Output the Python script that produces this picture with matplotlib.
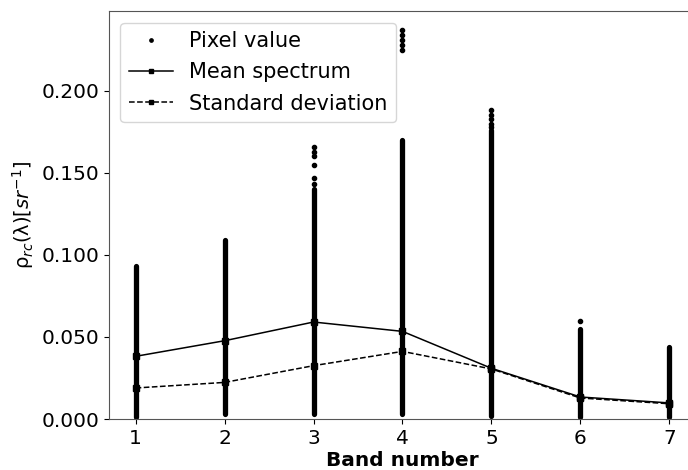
import matplotlib.pyplot as plt
import numpy as np

bands = [1, 2, 3, 4, 5, 6, 7]
# dense part of the pixel values for each band (low, high)
pix_low = [0.001, 0.003, 0.003, 0.003, 0.002, 0.001, 0.001]
pix_high = [0.093, 0.109, 0.140, 0.170, 0.176, 0.055, 0.044]
extra_band = [3, 3, 3, 3, 3, 3, 4, 4, 4, 4, 4, 5, 5, 5, 5, 5, 6]
extra_val = [0.143, 0.147, 0.155, 0.160, 0.163, 0.166, 0.225, 0.228, 0.231, 0.234, 0.237,
             0.178, 0.180, 0.183, 0.185, 0.188, 0.0595]
mean_spec = [0.0382, 0.0477, 0.0591, 0.0534, 0.0309, 0.0134, 0.0098]
std_spec = [0.0189, 0.0223, 0.0325, 0.0412, 0.0305, 0.0128, 0.0093]

fig = plt.figure(figsize=(6.88, 4.70), dpi=100)
ax = fig.add_axes([0.1584, 0.1085, 0.8532, 0.868])

for b, lo, hi in zip(bands, pix_low, pix_high):
    ax.plot([b, b], [lo, hi], color='k', lw=3.8, solid_capstyle='round')
ax.plot(extra_band, extra_val, '.', color='k', markersize=6, label='Pixel value')
ax.plot(bands, mean_spec, '-s', color='k', lw=1.1, markersize=4, label='Mean spectrum')
ax.plot(bands, std_spec, '--s', color='k', lw=1.1, markersize=4, label='Standard deviation')

ax.set_xlim(0.7, 7.3)
ax.set_ylim(0, 0.2486)
ax.set_xticks(bands)
ax.set_yticks([0, 0.05, 0.1, 0.15, 0.2])
ax.set_yticklabels(['0.000', '0.050', '0.100', '0.150', '0.200'])
ax.tick_params(labelsize=14.5)
for s in ['left', 'bottom', 'top', 'right']:
    ax.spines[s].set_color('#555555')

ax.set_xlabel('Band number', fontsize=14.5, fontweight='bold', labelpad=2)
ax.set_ylabel(r'ρ$_{rc}$(λ)$[sr^{-1}]$', fontsize=14)
ax.legend(loc='upper left', fontsize=15, handlelength=2.1, borderaxespad=0.55,
          labelspacing=0.55, handletextpad=0.8, markerscale=0.8)

fig.savefig('out.png', dpi=100)
